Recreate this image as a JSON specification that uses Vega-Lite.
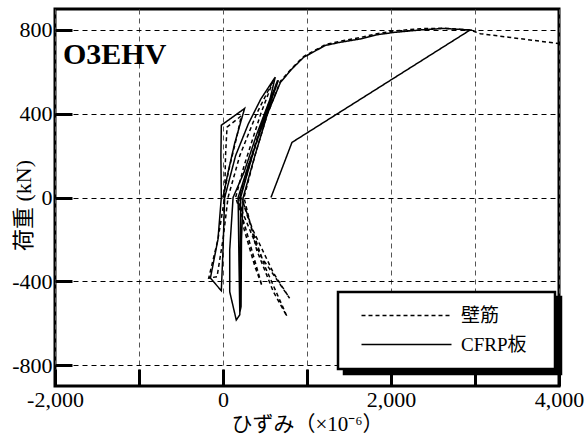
{
  "$schema": "https://vega.github.io/schema/vega-lite/v6.json",
  "autosize": {"type": "none"},
  "padding": {"left": 55, "top": 9, "right": 27, "bottom": 48},
  "width": 504,
  "height": 377,
  "background": "white",
  "config": {
    "font": "Liberation Serif",
    "view": {"stroke": "black", "strokeWidth": 3},
    "legend": {"strokeWidth": 2.5}
  },
  "title": {
    "text": "O3EHV",
    "anchor": "start",
    "frame": "group",
    "orient": "top",
    "offset": -53,
    "baseline": "alphabetic",
    "dx": 8,
    "dy": 32,
    "fontSize": 30,
    "fontWeight": "bold",
    "font": "Liberation Serif",
    "color": "black"
  },
  "data": {
    "values": [
      {"s": "CFRP板", "i": 0, "x": 0, "y": 0},
      {"s": "CFRP板", "i": 1, "x": 60, "y": 120},
      {"s": "CFRP板", "i": 2, "x": 140, "y": 260},
      {"s": "CFRP板", "i": 3, "x": 257, "y": 425},
      {"s": "CFRP板", "i": 4, "x": -20, "y": 345},
      {"s": "CFRP板", "i": 5, "x": -25, "y": 200},
      {"s": "CFRP板", "i": 6, "x": -20, "y": 0},
      {"s": "CFRP板", "i": 7, "x": -60, "y": -200},
      {"s": "CFRP板", "i": 8, "x": -150, "y": -385},
      {"s": "CFRP板", "i": 9, "x": -20, "y": -445},
      {"s": "CFRP板", "i": 10, "x": 0, "y": -250},
      {"s": "CFRP板", "i": 11, "x": 20, "y": 0},
      {"s": "CFRP板", "i": 12, "x": 150, "y": 200},
      {"s": "CFRP板", "i": 13, "x": 300, "y": 350},
      {"s": "CFRP板", "i": 14, "x": 450, "y": 470},
      {"s": "CFRP板", "i": 15, "x": 622, "y": 575},
      {"s": "CFRP板", "i": 16, "x": 560, "y": 470},
      {"s": "CFRP板", "i": 17, "x": 400, "y": 300},
      {"s": "CFRP板", "i": 18, "x": 250, "y": 120},
      {"s": "CFRP板", "i": 19, "x": 120, "y": 0},
      {"s": "CFRP板", "i": 20, "x": 80, "y": -250},
      {"s": "CFRP板", "i": 21, "x": 80, "y": -450},
      {"s": "CFRP板", "i": 22, "x": 158, "y": -585},
      {"s": "CFRP板", "i": 23, "x": 200, "y": -560},
      {"s": "CFRP板", "i": 24, "x": 205, "y": -300},
      {"s": "CFRP板", "i": 25, "x": 210, "y": 0},
      {"s": "CFRP板", "i": 26, "x": 350, "y": 200},
      {"s": "CFRP板", "i": 27, "x": 500, "y": 400},
      {"s": "CFRP板", "i": 28, "x": 660, "y": 560},
      {"s": "CFRP板", "i": 29, "x": 500, "y": 380},
      {"s": "CFRP板", "i": 30, "x": 300, "y": 150},
      {"s": "CFRP板", "i": 31, "x": 180, "y": 0},
      {"s": "CFRP板", "i": 32, "x": 190, "y": -300},
      {"s": "CFRP板", "i": 33, "x": 200, "y": -550},
      {"s": "CFRP板", "i": 34, "x": 215, "y": -520},
      {"s": "CFRP板", "i": 35, "x": 220, "y": -200},
      {"s": "CFRP板", "i": 36, "x": 240, "y": 0},
      {"s": "CFRP板", "i": 37, "x": 380, "y": 200},
      {"s": "CFRP板", "i": 38, "x": 530, "y": 400},
      {"s": "CFRP板", "i": 39, "x": 684, "y": 550},
      {"s": "CFRP板", "i": 40, "x": 821, "y": 614},
      {"s": "CFRP板", "i": 41, "x": 959, "y": 669},
      {"s": "CFRP板", "i": 42, "x": 1218, "y": 726},
      {"s": "CFRP板", "i": 43, "x": 1396, "y": 741},
      {"s": "CFRP板", "i": 44, "x": 1634, "y": 757},
      {"s": "CFRP板", "i": 45, "x": 1833, "y": 777},
      {"s": "CFRP板", "i": 46, "x": 2031, "y": 788},
      {"s": "CFRP板", "i": 47, "x": 2348, "y": 800},
      {"s": "CFRP板", "i": 48, "x": 2626, "y": 807},
      {"s": "CFRP板", "i": 49, "x": 2943, "y": 800},
      {"s": "CFRP板", "i": 50, "x": 821, "y": 263},
      {"s": "CFRP板", "i": 51, "x": 571, "y": 0},
      {"s": "壁筋", "i": 0, "x": 0, "y": 0},
      {"s": "壁筋", "i": 1, "x": 80, "y": 150},
      {"s": "壁筋", "i": 2, "x": 170, "y": 300},
      {"s": "壁筋", "i": 3, "x": 218, "y": 390},
      {"s": "壁筋", "i": 4, "x": 48, "y": 336},
      {"s": "壁筋", "i": 5, "x": 30, "y": 200},
      {"s": "壁筋", "i": 6, "x": 20, "y": 0},
      {"s": "壁筋", "i": 7, "x": -60, "y": -200},
      {"s": "壁筋", "i": 8, "x": -170, "y": -385},
      {"s": "壁筋", "i": 9, "x": -71, "y": -378},
      {"s": "壁筋", "i": 10, "x": 0, "y": -200},
      {"s": "壁筋", "i": 11, "x": 60, "y": 0},
      {"s": "壁筋", "i": 12, "x": 200, "y": 200},
      {"s": "壁筋", "i": 13, "x": 400, "y": 400},
      {"s": "壁筋", "i": 14, "x": 600, "y": 560},
      {"s": "壁筋", "i": 15, "x": 450, "y": 400},
      {"s": "壁筋", "i": 16, "x": 250, "y": 150},
      {"s": "壁筋", "i": 17, "x": 150, "y": 0},
      {"s": "壁筋", "i": 18, "x": 250, "y": -120},
      {"s": "壁筋", "i": 19, "x": 464, "y": -422},
      {"s": "壁筋", "i": 20, "x": 380, "y": -330},
      {"s": "壁筋", "i": 21, "x": 250, "y": -150},
      {"s": "壁筋", "i": 22, "x": 200, "y": 0},
      {"s": "壁筋", "i": 23, "x": 350, "y": 200},
      {"s": "壁筋", "i": 24, "x": 550, "y": 450},
      {"s": "壁筋", "i": 25, "x": 650, "y": 560},
      {"s": "壁筋", "i": 26, "x": 500, "y": 400},
      {"s": "壁筋", "i": 27, "x": 300, "y": 150},
      {"s": "壁筋", "i": 28, "x": 180, "y": -20},
      {"s": "壁筋", "i": 29, "x": 450, "y": -280},
      {"s": "壁筋", "i": 30, "x": 793, "y": -481},
      {"s": "壁筋", "i": 31, "x": 600, "y": -360},
      {"s": "壁筋", "i": 32, "x": 350, "y": -150},
      {"s": "壁筋", "i": 33, "x": 220, "y": 0},
      {"s": "壁筋", "i": 34, "x": 300, "y": -100},
      {"s": "壁筋", "i": 35, "x": 500, "y": -330},
      {"s": "壁筋", "i": 36, "x": 762, "y": -568},
      {"s": "壁筋", "i": 37, "x": 600, "y": -450},
      {"s": "壁筋", "i": 38, "x": 400, "y": -250},
      {"s": "壁筋", "i": 39, "x": 250, "y": 0},
      {"s": "壁筋", "i": 40, "x": 380, "y": 200},
      {"s": "壁筋", "i": 41, "x": 530, "y": 400},
      {"s": "壁筋", "i": 42, "x": 684, "y": 555},
      {"s": "壁筋", "i": 43, "x": 821, "y": 618},
      {"s": "壁筋", "i": 44, "x": 959, "y": 673},
      {"s": "壁筋", "i": 45, "x": 1218, "y": 730},
      {"s": "壁筋", "i": 46, "x": 1396, "y": 746},
      {"s": "壁筋", "i": 47, "x": 1634, "y": 764},
      {"s": "壁筋", "i": 48, "x": 1833, "y": 782},
      {"s": "壁筋", "i": 49, "x": 2031, "y": 795},
      {"s": "壁筋", "i": 50, "x": 2348, "y": 806},
      {"s": "壁筋", "i": 51, "x": 2626, "y": 808},
      {"s": "壁筋", "i": 52, "x": 2943, "y": 800},
      {"s": "壁筋", "i": 53, "x": 3063, "y": 782},
      {"s": "壁筋", "i": 54, "x": 4000, "y": 735}
    ]
  },
  "layer": [
    {
      "mark": {"type": "line", "opacity": 0},
      "encoding": {
        "x": {
          "field": "x",
          "type": "quantitative",
          "scale": {"domain": [-2000, 4000], "nice": false, "zero": false},
          "axis": {
            "orient": "bottom",
            "offset": -17,
            "values": [-2000, -1000, 0, 1000, 2000, 3000, 4000],
            "labels": false,
            "domain": false,
            "grid": false,
            "ticks": true,
            "tickSize": 17,
            "tickWidth": 3,
            "tickColor": "black",
            "title": null
          }
        },
        "y": {
          "field": "y",
          "type": "quantitative",
          "scale": {"domain": [-900, 900], "nice": false, "zero": false},
          "axis": {
            "orient": "left",
            "offset": -17,
            "values": [-800, -400, 0, 400, 800],
            "labels": false,
            "domain": false,
            "grid": false,
            "ticks": true,
            "tickSize": 17,
            "tickWidth": 3,
            "tickColor": "black",
            "title": null
          }
        },
        "color": {
          "field": "s",
          "type": "nominal",
          "scale": {"domain": ["CFRP板", "壁筋"], "range": ["black", "black"]},
          "legend": {
            "title": null,
            "orient": "none",
            "legendX": 289,
            "legendY": 288,
            "padding": 14,
            "strokeColor": "black",
            "fillColor": "black",
            "symbolType": "M-9,0H9",
            "symbolSize": 100,
            "symbolOffset": 45,
            "symbolStrokeWidth": 1.5,
            "labelFont": "'Liberation Serif', 'Noto Sans CJK JP'",
            "labelFontSize": 19,
            "labelColor": "black",
            "labelOpacity": 0,
            "labelOffset": 45,
            "rowPadding": 9,
            "labelExpr": "datum.label + '\u2800'"
          }
        },
        "order": {"field": "i", "type": "quantitative"}
      }
    },
    {
      "mark": {"type": "line", "color": "black", "strokeWidth": 1.5, "clip": true},
      "encoding": {
        "x": {
          "field": "x",
          "type": "quantitative",
          "axis": {
            "orient": "bottom",
            "values": [-2000, -1000, 0, 1000, 2000, 3000, 4000],
            "labelExpr": "datum.value % 2000 === 0 ? replace(format(datum.value, ','), '\u2212', '-') : ''",
            "labelFont": "Liberation Serif",
            "labelFontSize": 22,
            "labelColor": "black",
            "labelFlush": false,
            "labelOverlap": false,
            "labelPadding": 3,
            "domain": false,
            "ticks": false,
            "grid": true,
            "gridColor": "#555555",
            "gridDash": [5, 4],
            "gridWidth": 1,
            "gridOpacity": 1,
            "title": "ひずみ（×10⁻⁶）",
            "titleFont": "'Liberation Serif', 'Noto Sans CJK JP'",
            "titleFontSize": 21,
            "titleFontWeight": "normal",
            "titleColor": "black",
            "titleX": 252,
            "titleY": 38,
            "titleBaseline": "middle"
          }
        },
        "y": {
          "field": "y",
          "type": "quantitative",
          "axis": {
            "orient": "left",
            "values": [-800, -400, 0, 400, 800],
            "labelExpr": "replace(format(datum.value, 'd'), '\u2212', '-')",
            "labelFont": "Liberation Serif",
            "labelFontSize": 22,
            "labelColor": "black",
            "labelFlush": false,
            "labelOverlap": false,
            "labelPadding": 3,
            "domain": false,
            "ticks": false,
            "grid": true,
            "gridColor": "black",
            "gridDash": [5, 4],
            "gridWidth": 1,
            "gridOpacity": 1,
            "title": "荷重 (kN)",
            "titleFont": "'Liberation Serif', 'Noto Sans CJK JP'",
            "titleFontSize": 22,
            "titleFontWeight": "normal",
            "titleColor": "black",
            "titleX": -32,
            "titleY": 196,
            "titleBaseline": "middle"
          }
        },
        "strokeDash": {
          "field": "s",
          "type": "nominal",
          "scale": {"domain": ["壁筋", "CFRP板"], "range": [[4, 3], [1, 0]]},
          "legend": {
            "title": null,
            "orient": "none",
            "legendX": 283,
            "legendY": 283,
            "padding": 14,
            "strokeColor": "black",
            "fillColor": "white",
            "symbolType": "M-9,0H9",
            "symbolSize": 100,
            "symbolOffset": 45,
            "symbolStrokeColor": "black",
            "symbolStrokeWidth": 1.5,
            "labelFont": "'Liberation Serif', 'Noto Sans CJK JP'",
            "labelFontSize": 19,
            "labelColor": "black",
            "labelOffset": 45,
            "rowPadding": 9,
            "labelExpr": "datum.label + '\u2800'"
          }
        },
        "order": {"field": "i", "type": "quantitative"}
      }
    }
  ],
  "resolve": {"axis": {"x": "independent", "y": "independent"}}
}
